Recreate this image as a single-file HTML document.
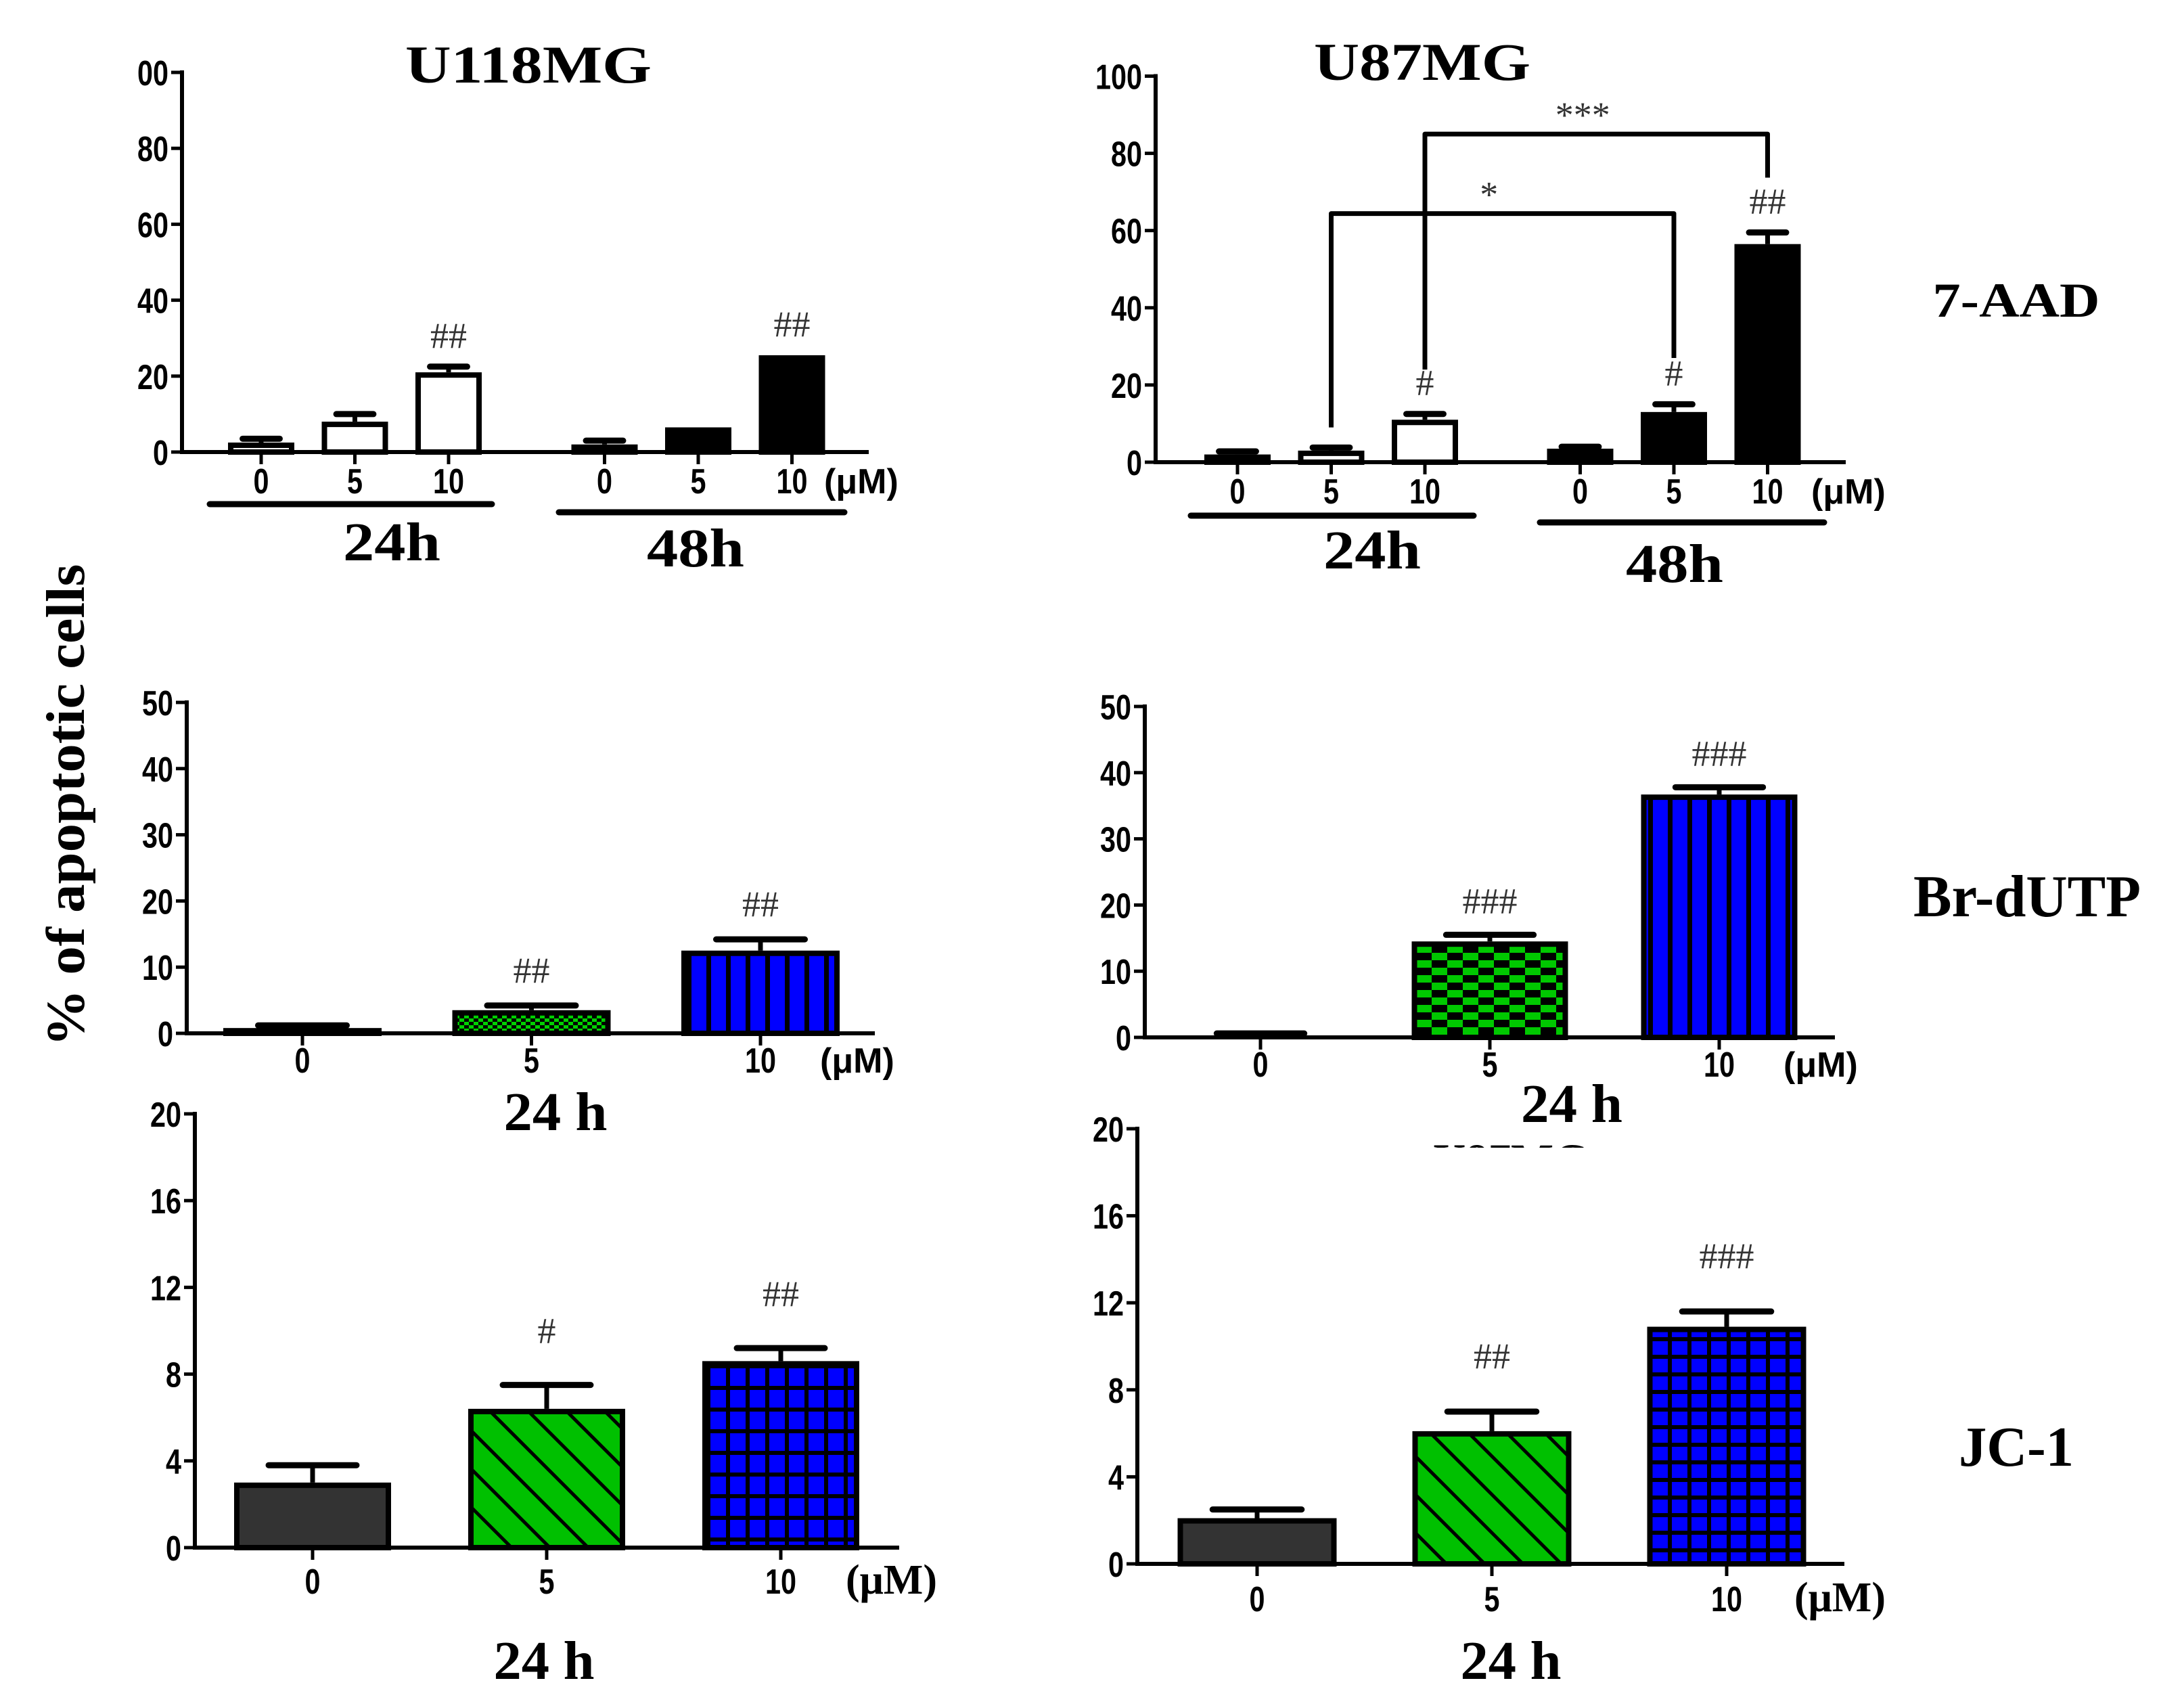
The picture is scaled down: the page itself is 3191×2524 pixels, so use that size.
<!DOCTYPE html>
<html><head><meta charset="utf-8"><style>
html,body{margin:0;padding:0;background:#fff;}
svg{display:block;}
.tick{font-family:"Liberation Sans",sans-serif;font-weight:bold;font-size:52px;fill:#000;}
.serif{font-family:"Liberation Serif",serif;font-weight:bold;fill:#000;}
.hash{font-family:"Liberation Serif",serif;font-size:54px;fill:#333;}
</style></head><body>
<svg id="fig" width="3191" height="2524" viewBox="0 0 3191 2524" xmlns="http://www.w3.org/2000/svg">
<defs>
<pattern id="checkS" patternUnits="userSpaceOnUse" width="14" height="10"><rect width="14" height="10" fill="#000"/><rect width="7" height="5" fill="#00d000"/><rect x="7" y="5" width="7" height="5" fill="#00d000"/></pattern>
<pattern id="checkL" patternUnits="userSpaceOnUse" width="46" height="22"><rect width="46" height="22" fill="#000"/><rect width="23" height="11" fill="#00c800"/><rect x="23" y="11" width="23" height="11" fill="#00c800"/></pattern>
<pattern id="vstripe" patternUnits="userSpaceOnUse" width="29" height="20"><rect width="29" height="20" fill="#0000ff"/><rect x="0" width="7" height="20" fill="#000"/></pattern>
<pattern id="diag" patternUnits="userSpaceOnUse" width="40" height="40" patternTransform="rotate(45)"><rect width="40" height="40" fill="#00c000"/><rect y="0" width="40" height="5" fill="#000"/></pattern>
<pattern id="gridL" patternUnits="userSpaceOnUse" width="29" height="32"><rect width="29" height="32" fill="#000"/><rect x="6" y="6" width="23" height="26" fill="#0000ff"/></pattern>
<pattern id="gridR" patternUnits="userSpaceOnUse" width="29" height="26"><rect width="29" height="26" fill="#000"/><rect x="6" y="6" width="23" height="20" fill="#0000ff"/></pattern>
</defs>
<g id="layer"></g>
</svg>
<script>
// ---- data: top-left U118MG 7-AAD ----
const tlCats = ["0","5","10","0","5","10"];
const tlVals = [2.5, 8, 21, 2, 6.5, 25.5];
const tlErrs = [3.5, 10, 22.5, 3, 6.5, 25.5];
const tlTicks = [0,20,40,60,80,100];
const tlTickLabels = ["0","20","40","60","80","00"];
const tlAnn = ["","","##","","","##"];
// ---- data: top-right U87MG 7-AAD ----
const trCats = ["0","5","10","0","5","10"];
const trVals = [2, 3, 11, 3.5, 13, 56.5];
const trErrs = [2.8, 3.8, 12.5, 4, 15, 59.5];
const trTicks = [0,20,40,60,80,100];
const trTickLabels = ["0","20","40","60","80","100"];
const trAnn = ["","","#","","#","##"];
// ---- data: middle-left Br-dUTP ----
const mlCats = ["0","5","10"];
const mlVals = [0.8, 3.5, 12.5];
const mlErrs = [1.2, 4.2, 14.2];
const mlTicks = [0,10,20,30,40,50];
const mlTickLabels = ["0","10","20","30","40","50"];
const mlAnn = ["","##","##"];
// ---- data: middle-right Br-dUTP ----
const mrCats = ["0","5","10"];
const mrVals = [0.4, 14.5, 36.7];
const mrErrs = [0.6, 15.5, 37.8];
const mrTicks = [0,10,20,30,40,50];
const mrTickLabels = ["0","10","20","30","40","50"];
const mrAnn = ["","###","###"];
// ---- data: bottom-left JC-1 ----
const blCats = ["0","5","10"];
const blVals = [3.0, 6.4, 8.6];
const blErrs = [3.8, 7.5, 9.2];
const blTicks = [0,4,8,12,16,20];
const blTickLabels = ["0","4","8","12","16","20"];
const blAnn = ["","#","##"];
// ---- data: bottom-right JC-1 ----
const brCats = ["0","5","10"];
const brVals = [2.1, 6.1, 10.9];
const brErrs = [2.5, 7.0, 11.6];
const brTicks = [0,4,8,12,16,20];
const brTickLabels = ["0","4","8","12","16","20"];
const brAnn = ["","##","###"];
// significance brackets (top-right), in data units
const brkFrom = [1, 2];
const brkTo = [4, 5];
const brkLevel = [64.4, 85];
const brkLeftEnd = [9, 24];
const brkRightEnd = [27, 73.7];
const brkLabel = ["*", "***"];

const NS = "http://www.w3.org/2000/svg";
const layer = document.getElementById('layer');
function mk(tag, attrs, parent){
  const e = document.createElementNS(NS, tag);
  for (const k in attrs) e.setAttribute(k, attrs[k]);
  (parent||layer).appendChild(e);
  return e;
}
function txt(str, x, y, cls, extra, parent){
  const t = mk('text', Object.assign({x:x, y:y, class:cls}, extra||{}), parent);
  t.textContent = str;
  return t;
}
function narrow(t, str){
  t.setAttribute('textLength', str.length * 23);
  t.setAttribute('lengthAdjust', 'spacingAndGlyphs');
}

function panel(cfg){
  const g = mk('g', {});
  
  
  const yS = v => cfg.y0 - (v / cfg.max) * (cfg.y0 - cfg.yTop);
  const xS = i => cfg.start + i * cfg.step + (i >= cfg.gapAfter ? cfg.gap : 0);
  cfg.yS = yS; cfg.xS = xS;
  const ya = mk('line', {x1:cfg.ax, y1:cfg.yTop-3, x2:cfg.ax, y2:cfg.y0+3, stroke:'#000','stroke-width':6}, g);
  
  
  cfg.ticks.forEach((v, i) => {
    const y = yS(v);
    mk('line', {x1:cfg.ax-16, y1:y, x2:cfg.ax, y2:y, stroke:'#000','stroke-width':5}, g);
    const t = txt(cfg.tickLabels[i], cfg.ax-20, y+19, 'tick', {'text-anchor':'end'}, g);
    narrow(t, cfg.tickLabels[i]);
    
    
  });
  const xa = mk('line', {x1:cfg.ax-3, y1:cfg.y0, x2:cfg.axEnd, y2:cfg.y0, stroke:'#000','stroke-width':6}, g);
  
  
  cfg.vals.forEach((v, i) => {
    const cx = xS(i), w = cfg.bw;
    const ey = yS(cfg.errs[i]);
    if (cfg.errs[i] > v) {
      const eg = mk('g', {}, g);
      
      
      mk('line', {x1:cx, y1:yS(v), x2:cx, y2:ey, stroke:'#000','stroke-width':7}, eg);
      mk('line', {x1:cx-w*0.28, y1:ey, x2:cx+w*0.28, y2:ey, stroke:'#000','stroke-width':9,'stroke-linecap':'round'}, eg);
    }
    const top = yS(v);
    const r = mk('rect', {x:cx-w/2+4, y:top+4, width:w-8, height:Math.max(0, cfg.y0-top-4), fill:cfg.fills[i], stroke:'#000','stroke-width':8}, g);
    
    
    mk('line', {x1:cx, y1:cfg.y0, x2:cx, y2:cfg.y0+18, stroke:'#000','stroke-width':5}, g);
    const cl = txt(cfg.cats[i], cx, cfg.labelY+4, 'tick', {'text-anchor':'middle'}, g);
    narrow(cl, cfg.cats[i]);
    
    
    if (cfg.ann[i]) {
      const a = txt(cfg.ann[i], cx, ey - cfg.annOff, 'hash', {'text-anchor':'middle'}, g);
      
      
    }
  });
  const u = txt('(μM)', cfg.unitX, cfg.labelY+4, cfg.unitSerif ? 'serif' : 'tick', {'font-size': cfg.unitSerif ? 62 : 50, 'font-weight': cfg.unitSerif ? 'normal' : 'bold'}, g);
  
  
  return cfg;
}

const tl = panel({name:'u118mg-7aad-chart', id:'tl', ax:269, y0:668, yTop:107, max:100, ticks:tlTicks, tickLabels:tlTickLabels,
  axEnd:1284, start:386, step:138.5, gapAfter:3, gap:92, bw:98, vals:tlVals, errs:tlErrs, cats:tlCats, ann:tlAnn, annOff:28,
  fills:['#fff','#fff','#fff','#000','#000','#000'], labelY:725, unitX:1218});
const tr = panel({name:'u87mg-7aad-chart', id:'tr', ax:1708, y0:683, yTop:112.5, max:100, ticks:trTicks, tickLabels:trTickLabels,
  axEnd:2728, start:1829, step:138.5, gapAfter:3, gap:91, bw:98, vals:trVals, errs:trErrs, cats:trCats, ann:trAnn, annOff:28,
  fills:['#fff','#fff','#fff','#000','#000','#000'], labelY:740, unitX:2677});
panel({name:'u118mg-brdutp-chart', id:'ml', ax:276, y0:1527, yTop:1038, max:50, ticks:mlTicks, tickLabels:mlTickLabels,
  axEnd:1293, start:447, step:338.5, gapAfter:99, gap:0, bw:234, vals:mlVals, errs:mlErrs, cats:mlCats, ann:mlAnn, annOff:34,
  fills:['#000','url(#checkS)','url(#vstripe)'], labelY:1581, unitX:1212});
panel({name:'u87mg-brdutp-chart', id:'mr', ax:1692, y0:1533, yTop:1044, max:50, ticks:mrTicks, tickLabels:mrTickLabels,
  axEnd:2712, start:1863, step:339, gapAfter:99, gap:0, bw:231, vals:mrVals, errs:mrErrs, cats:mrCats, ann:mrAnn, annOff:32,
  fills:['#000','url(#checkL)','url(#vstripe)'], labelY:1587, unitX:2636});
panel({name:'u118mg-jc1-chart', id:'bl', ax:288, y0:2287, yTop:1646, max:20, ticks:blTicks, tickLabels:blTickLabels,
  axEnd:1329, start:462, step:346, gapAfter:99, gap:0, bw:232, vals:blVals, errs:blErrs, cats:blCats, ann:blAnn, annOff:62,
  fills:['#333','url(#diag)','url(#gridL)'], labelY:2351, unitX:1250, unitSerif:true});
panel({name:'u87mg-jc1-chart', id:'br', ax:1681, y0:2311, yTop:1668, max:20, ticks:brTicks, tickLabels:brTickLabels,
  axEnd:2726, start:1858, step:347, gapAfter:99, gap:0, bw:235, vals:brVals, errs:brErrs, cats:brCats, ann:brAnn, annOff:64,
  fills:['#333','url(#diag)','url(#gridR)'], labelY:2377, unitX:2652, unitSerif:true});

brkFrom.forEach((f, k) => {
  const g = mk('g', {});
  
  
  const x1 = tr.xS(f), x2 = tr.xS(brkTo[k]), y = tr.yS(brkLevel[k]);
  mk('polyline', {points:`${x1},${tr.yS(brkLeftEnd[k])} ${x1},${y} ${x2},${y} ${x2},${tr.yS(brkRightEnd[k])}`, fill:'none', stroke:'#000','stroke-width':7,'stroke-linejoin':'round'}, g);
  txt(brkLabel[k], (x1+x2)/2 - 20, y - 10, 'hash', {'text-anchor':'middle','font-size':66}, g);
});

function label(name, str, x, y, size, len, anchor){
  const t = txt(str, x, y, 'serif', {'font-size':size, 'text-anchor':anchor||'middle'});
  if (len) { t.setAttribute('textLength', len); t.setAttribute('lengthAdjust', 'spacingAndGlyphs'); }
  
  
  return t;
}
function bar(name, x1, x2, y){
  const l = mk('line', {x1:x1, y1:y, x2:x2, y2:y, stroke:'#000','stroke-width':9,'stroke-linecap':'round'});
  
  
}
label('u118mg-title', 'U118MG', 781, 122, 78, 364);
label('u87mg-title', 'U87MG', 2102, 118, 78, 320);
bar('group-24h-line-left', 310, 727, 745); bar('group-48h-line-left', 826, 1248, 757);
bar('group-24h-line-right', 1760, 2178, 762); bar('group-48h-line-right', 2276, 2696, 772);
label('group-24h-label-left', '24h', 579, 828, 80, 144);
label('group-48h-label-left', '48h', 1028, 837, 80, 144);
label('group-24h-label-right', '24h', 2028, 840, 80, 144);
label('group-48h-label-right', '48h', 2475, 860, 80, 144);
label('assay-7aad-label', '7-AAD', 2980, 468, 72, 247);
label('assay-brdutp-label', 'Br-dUTP', 2996, 1354, 88, 336);
label('assay-jc1-label', 'JC-1', 2980, 2166, 84, 170);
label('time-label-ml', '24 h', 821, 1670, 80, 153);
label('time-label-mr', '24 h', 2323, 1658, 80, 150);
label('time-label-bl', '24 h', 804, 2481, 80, 149);
label('time-label-br', '24 h', 2233, 2481, 80, 149);
const cp = mk('clipPath', {id:'cutU87'}); mk('rect', {x:2000, y:1666, width:500, height:30}, cp);
const ghost = label('u87mg-clipped-title', 'U87MG', 2233, 1740, 72, 230);
ghost.setAttribute('clip-path', 'url(#cutU87)');
const yt = txt('% of apoptotic cells', 0, 0, 'serif', {'font-size':80, 'text-anchor':'middle', transform:'translate(124,1190) rotate(-90)', textLength:713, lengthAdjust:'spacingAndGlyphs'});


</script>
</body></html>
